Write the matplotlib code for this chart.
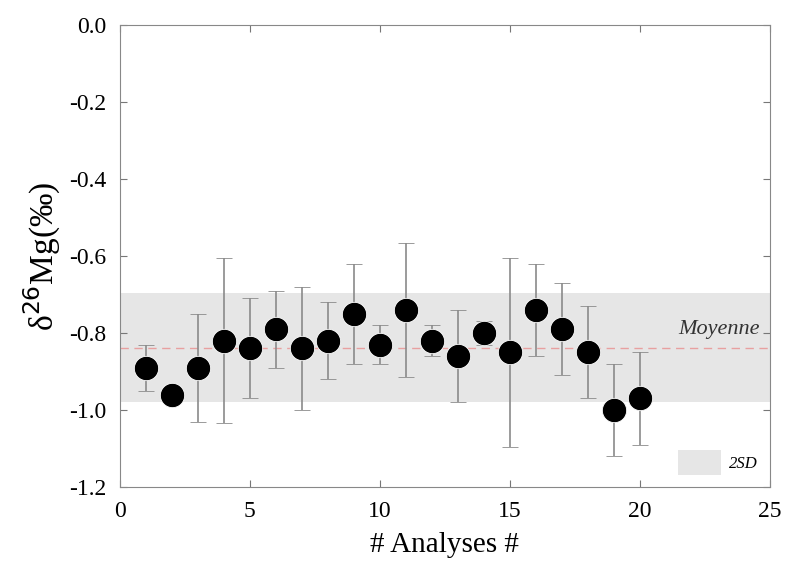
import matplotlib.pyplot as plt
from matplotlib.patches import Patch
import numpy as np

analyses = list(range(1, 21))
delta26Mg = [-0.89, -0.96, -0.89, -0.82, -0.84, -0.79, -0.84, -0.82, -0.75, -0.83,
             -0.74, -0.82, -0.86, -0.80, -0.85, -0.74, -0.79, -0.85, -1.00, -0.97]
err2sd = [0.06, 0.0, 0.14, 0.215, 0.13, 0.10, 0.16, 0.10, 0.13, 0.05,
          0.175, 0.04, 0.12, 0.03, 0.245, 0.12, 0.12, 0.12, 0.12, 0.12]
moyenne = -0.84
band = (-0.98, -0.695)

plt.rcParams['font.family'] = ['Liberation Serif', 'DejaVu Serif']

fig = plt.figure(figsize=(7.88, 5.62), dpi=100)
ax = fig.add_axes([0.152, 0.1335, 0.825, 0.822])

ax.axhspan(band[0], band[1], color='#e6e6e6', lw=0, zorder=0)
ax.axhline(moyenne, color='#e8a0a0', ls=(0, (6, 4)), lw=1, zorder=1)

ax.errorbar(analyses, delta26Mg, yerr=err2sd, fmt='o', color='black',
            ecolor='#8a8a8a', elinewidth=1.2, capsize=6, capthick=1.2,
            markersize=17.5, markeredgecolor='white', markeredgewidth=0.6, zorder=3)

ax.text(24.6, moyenne + 0.025, 'Moyenne', style='italic', fontsize=16,
        ha='right', va='bottom', color='#333333')

leg = ax.legend([Patch(facecolor='#e6e6e6', edgecolor='none')], ['2SD'],
                loc='lower right', frameon=False, handlelength=2.6, handleheight=2.0,
                prop={'style': 'italic', 'size': 12}, borderaxespad=0.3,
                handletextpad=0.5)

ax.set_xlim(0, 25)
ax.set_ylim(-1.2, 0.0)
ax.set_xticks([0, 5, 10, 15, 20, 25])
ax.set_yticks(np.arange(-1.2, 0.01, 0.2))
ax.set_yticklabels(['-1.2', '-1.0', '-0.8', '-0.6', '-0.4', '-0.2', '0.0'])
ax.tick_params(direction='in', length=5, color='#777777', labelsize=17,
               top=True, right=True, pad=10)
for s in ax.spines.values():
    s.set_color('#888888')

ax.set_xlabel('# Analyses #', fontsize=21, labelpad=7)
ax.set_ylabel('δ$^{26}$Mg(‰)', fontsize=24, labelpad=4)

fig.savefig('out.png', dpi=100)
